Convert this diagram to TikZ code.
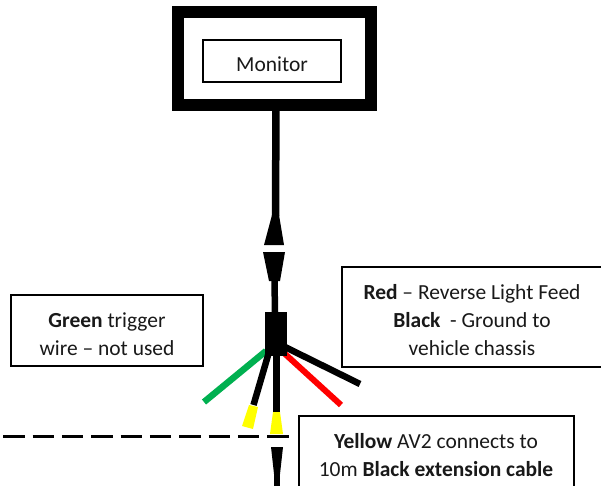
\documentclass[tikz,border=0pt]{standalone}
\usepackage{fontspec}
\setmainfont{Carlito}
\definecolor{wiregreen}{RGB}{0,176,80}
\definecolor{wirered}{RGB}{255,0,0}
\definecolor{wireyellow}{RGB}{255,255,0}
\tikzset{
  textframe/.style={draw=black,line width=1.5pt,fill=white},
  label/.style={align=center,inner sep=0pt,font=\fontsize{16.1}{21}\selectfont,text=black!90},
  wire/.style={line width=#1*0.75pt},
  taper/.style={fill=black},
  plug/.style={fill=wireyellow},
}
\begin{document}
\begin{tikzpicture}[x=0.75pt,y=-0.75pt]
\useasboundingbox (0,0) rectangle (601,486);
\clip (0,0) rectangle (601,486);
% named points
\coordinate (hubtop) at (275,312);
\coordinate (montail) at (276,104);
\coordinate (conetop) at (275.5,216);
\coordinate (lowcone) at (274.5,281);
\coordinate (lowend) at (277,486);
\coordinate (lowtop) at (277,472);
\coordinate (gs) at (266,351);
\coordinate (ge) at (204,402);
\coordinate (bls) at (269,352);
\coordinate (ble) at (253.5,405);
\coordinate (cs) at (276.5,352);
\coordinate (ce) at (276.5,412);
\coordinate (rs) at (284,353);
\coordinate (re) at (341,405);
\coordinate (brs) at (285,347);
\coordinate (bre) at (360,384);
\coordinate (dl) at (3.3,436);
\coordinate (dr) at (289,436);
% cable from monitor
\draw[wire=7.5] (montail) -- (conetop);
\fill[taper] (272,215) -- (279,215) -- (284,245) -- (264,245) -- cycle;
\fill[taper] (263,252) -- (285,252) -- (280,281) -- (269,281) -- cycle;
\draw[wire=6.5] (lowcone) -- (hubtop);
% fan-out wires
\draw[wire=6.5,wiregreen] (gs) -- (ge);
\draw[wire=6,wirered] (rs) -- (re);
\draw[wire=6.5] (bls) -- (ble);
\draw[wire=6.5] (cs) -- (ce);
\draw[wire=6.5] (brs) -- (bre);
% hub
\fill[black] (264.5,312) rectangle (287,356);
\node[inner sep=0pt,minimum size=0pt] (hub) at (275.7,334) {};
% yellow plugs
\fill[plug] (249,405) -- (258,407) -- (253,429) -- (242,426) -- cycle;
\fill[plug] (273,412) -- (280,412) -- (283,434) -- (270,434) -- cycle;
% dashed divider
\draw[line width=2.25pt,dash pattern=on 16.1pt off 5.9pt] (dl) -- (dr);
% lower cable
\fill[taper] (271,447) -- (283,447) -- (280,474) -- (274,474) -- cycle;
\draw[wire=6.5] (lowtop) -- (lowend);
% monitor
\draw[line width=9pt,fill=white] (177.5,12) rectangle (370.5,104.5);
\node[draw=black,line width=1.5pt,minimum width=104pt,minimum height=31pt,inner sep=0pt,anchor=center] (monitor) at (272,61) {};
\node[label] (monitortext) at (272,64) {Monitor};
% boxes
\draw[textframe] (10.7,295) rectangle (203,366);
\node[label] (greentext) at (107,334) {\textbf{Green} trigger\\wire – not used};
\draw[textframe] (341.5,267) rectangle (640,367);
\node[label] (redtext) at (472,320) {\textbf{Red} – Reverse Light Feed\\\textbf{Black}\ \ - Ground to\\vehicle chassis};
\draw[textframe] (298.5,416) rectangle (573.5,520);
\node[label] (yellowtext) at (436,455) {\textbf{Yellow} AV2 connects to\\10m \textbf{Black extension cable}};
\end{tikzpicture}
\end{document}
